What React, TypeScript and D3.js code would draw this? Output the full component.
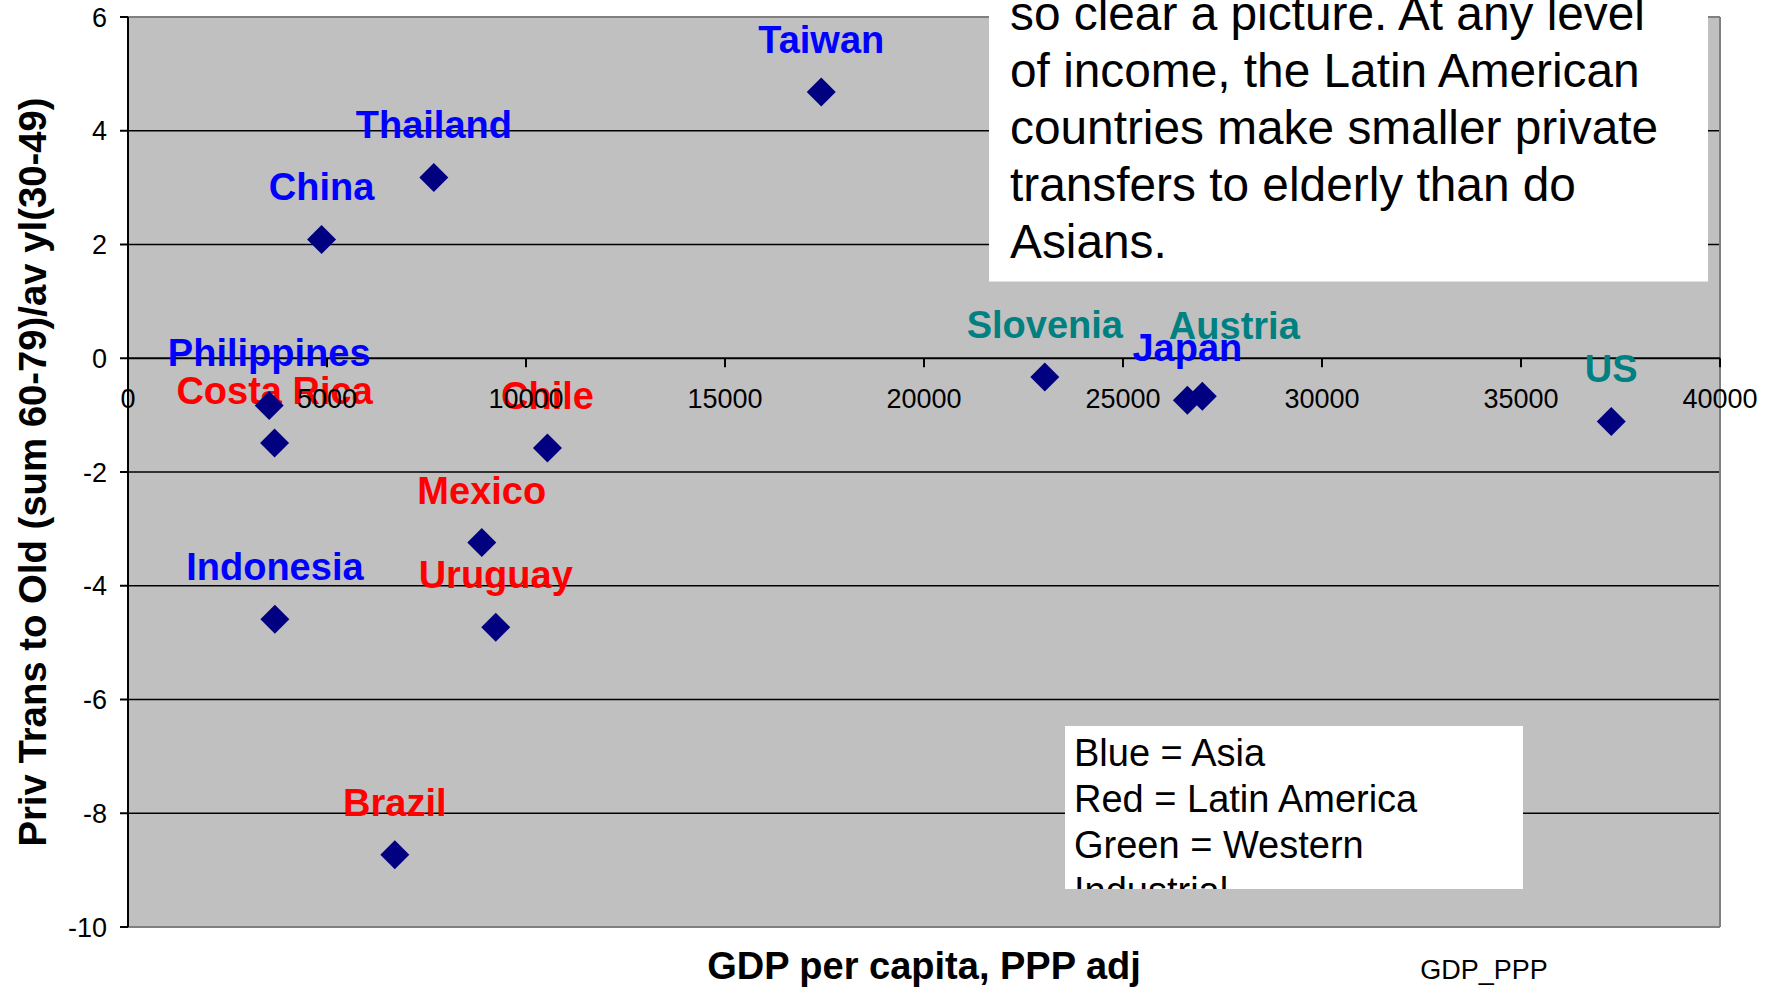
import React from "react";
import * as d3 from "d3";

const countries = ["Taiwan", "Thailand", "China", "Philippines", "Costa Rica", "Chile", "Mexico", "Indonesia", "Uruguay", "Brazil", "Slovenia", "Japan", "Austria", "US"];
const gdpPpp = [17419, 7684, 4864, 3548, 3683, 10539, 8889, 3691, 9240, 6704, 23036, 26617, 26993, 37268];
const privTrans = [4.68, 3.18, 2.09, -0.83, -1.49, -1.58, -3.24, -4.59, -4.73, -8.73, -0.33, -0.74, -0.67, -1.11];
const regions = ["Asia", "Asia", "Asia", "Asia", "Latin", "Latin", "Latin", "Asia", "Latin", "Latin", "West", "Asia", "West", "West"];

const xTicks = [0, 5000, 10000, 15000, 20000, 25000, 30000, 35000, 40000];
const yTicks = [-10, -8, -6, -4, -2, 0, 2, 4, 6];

const noteLines = [
  "so clear a picture. At any level",
  "of income, the Latin American",
  "countries make smaller private",
  "transfers to elderly than do",
  "Asians.",
];
const legendLines = ["Blue = Asia", "Red = Latin America", "Green = Western", "Industrial"];

const regionColor: Record<string, string> = { Asia: "#0000FF", Latin: "#FF0000", West: "#008080" };
const labelNudge: Record<string, [number, number]> = { Austria: [32, -18] };

const FONT = "'Liberation Sans', Arial, Helvetica, sans-serif";

export default function App() {
  const W = 1774, H = 988;
  const left = 128, right = 1720, top = 17, bottom = 927;
  const x = d3.scaleLinear().domain([0, 40000]).range([left, right]);
  const y = d3.scaleLinear().domain([-10, 6]).range([bottom, top]);
  const y0 = y(0);

  return (
    <svg width={W} height={H} style={{ position: "absolute", left: 0, top: 0, background: "#fff" }} fontFamily={FONT}>
      <defs>
        <clipPath id="legclip">
          <rect x={1065} y={726} width={458} height={163} />
        </clipPath>
      </defs>
      {/* plot area */}
      <rect x={left} y={top} width={right - left} height={bottom - top} fill="#C0C0C0" />
      {/* gridlines */}
      {yTicks.filter(t => t !== -10 && t !== 6 && t !== 0).map(t => (
        <line key={"g" + t} x1={left} x2={right} y1={y(t)} y2={y(t)} stroke="#000" strokeWidth={1.4} />
      ))}
      {/* border */}
      <line x1={left} x2={right} y1={top} y2={top} stroke="#808080" strokeWidth={2} />
      <line x1={right} x2={right} y1={top} y2={bottom} stroke="#808080" strokeWidth={2} />
      <line x1={left} x2={right} y1={bottom} y2={bottom} stroke="#808080" strokeWidth={2} />
      {/* y axis */}
      <line x1={left} x2={left} y1={top} y2={bottom} stroke="#000" strokeWidth={2} />
      {yTicks.map(t => (
        <line key={"yt" + t} x1={left - 8} x2={left} y1={y(t)} y2={y(t)} stroke="#000" strokeWidth={2} />
      ))}
      {/* x axis at zero */}
      <line x1={left} x2={right} y1={y0} y2={y0} stroke="#000" strokeWidth={2.2} />
      {xTicks.map(t => (
        <line key={"xt" + t} x1={x(t)} x2={x(t)} y1={y0} y2={y0 + 9} stroke="#000" strokeWidth={2} />
      ))}
      {/* data labels */}
      {countries.map((c, i) => {
        const n = labelNudge[c] || [0, 0];
        return (
          <text key={"l" + c} x={x(gdpPpp[i]) + n[0]} y={y(privTrans[i]) - 39 + n[1]} textAnchor="middle"
            fontSize={38} fontWeight="bold" fill={regionColor[regions[i]]}>{c}</text>
        );
      })}
      {/* markers */}
      {countries.map((c, i) => {
        const cx = x(gdpPpp[i]), cy = y(privTrans[i]);
        return <path key={"m" + c} d={`M${cx},${cy - 14.5}L${cx + 14.5},${cy}L${cx},${cy + 14.5}L${cx - 14.5},${cy}Z`} fill="#000080" />;
      })}
      {/* tick labels */}
      {yTicks.map(t => (
        <text key={"yl" + t} x={107} y={y(t)} dy="0.36em" textAnchor="end" fontSize={27} fill="#000">{t}</text>
      ))}
      {xTicks.map(t => (
        <text key={"xl" + t} x={x(t)} y={408} textAnchor="middle" fontSize={27} fill="#000">{t}</text>
      ))}
      {/* axis titles */}
      <text x={924} y={979} textAnchor="middle" fontSize={38} fontWeight="bold" fill="#000">GDP per capita, PPP adj</text>
      <text x={1484} y={979} textAnchor="middle" fontSize={27} fill="#000">GDP_PPP</text>
      <text transform={`translate(46,${(top + bottom) / 2}) rotate(-90)`} textAnchor="middle" fontSize={38.3} fontWeight="bold" fill="#000">
        Priv Trans to Old (sum 60-79)/av yl(30-49)
      </text>
      {/* note box */}
      <rect x={989} y={-10} width={719} height={291.5} fill="#fff" />
      {noteLines.map((s, i) => (
        <text key={"n" + i} x={1010} y={29.5 + i * 57.2} fontSize={47.8} fill="#000">{s}</text>
      ))}
      {/* legend box */}
      <rect x={1065} y={726} width={458} height={163} fill="#fff" />
      <g clipPath="url(#legclip)">
        {legendLines.map((s, i) => (
          <text key={"lg" + i} x={1074} y={766 + i * 46} fontSize={38} fill="#000">{s}</text>
        ))}
      </g>
    </svg>
  );
}
